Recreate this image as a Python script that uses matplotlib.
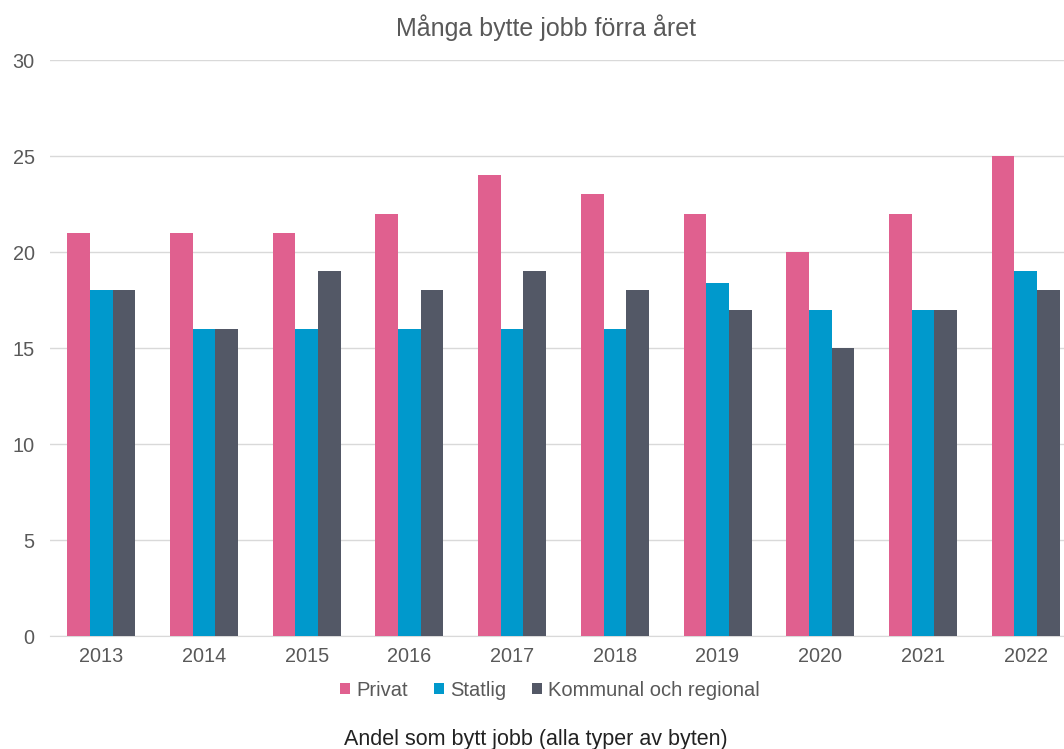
import numpy as np
import matplotlib.pyplot as plt

plt.rcParams['font.family'] = ['Liberation Sans', 'DejaVu Sans']

years = ['2013', '2014', '2015', '2016', '2017', '2018', '2019', '2020', '2021', '2022']
privat = [21, 21, 21, 22, 24, 23, 22, 20, 22, 25]
statlig = [18, 16, 16, 16, 16, 16, 18.4, 17, 17, 19]
kommunal = [18, 16, 19, 18, 19, 18, 17, 15, 17, 18]

series = [('Privat', privat, '#E0608F'),
          ('Statlig', statlig, '#0099CC'),
          ('Kommunal och regional', kommunal, '#535866')]

grey = '#595959'
fig = plt.figure(figsize=(10.64, 7.49), dpi=100)
# chart is cut off on the right edge in the reference
ax = fig.add_axes([50 / 1064, 1 - 636 / 749, 1027 / 1064, 576 / 749])

x = np.arange(len(years))
w = 0.221
for i, (name, vals, col) in enumerate(series):
    ax.bar(x + (i - 1) * w, vals, w, color=col, label=name, zorder=3)

ax.set_xlim(-0.5, len(years) - 0.5)
ax.set_ylim(0, 30)
ax.set_yticks(range(0, 31, 5))
ax.set_xticks(x, years)
ax.grid(axis='y', color='#D9D9D9', linewidth=1, zorder=0)
for s in ['top', 'right', 'left']:
    ax.spines[s].set_visible(False)
ax.spines['bottom'].set_color('#D9D9D9')
ax.tick_params(axis='both', length=0, labelsize=14.3, colors=grey)
ax.tick_params(axis='y', pad=11)
ax.tick_params(axis='x', pad=8)

fig.text(546 / 1064, 1 - 28 / 749, 'Många bytte jobb förra året', ha='center', va='center',
         fontsize=18, color=grey)

handles, labels = ax.get_legend_handles_labels()
fig.legend(handles, labels, loc='center', bbox_to_anchor=(550 / 1064, 1 - 690 / 749),
           ncol=3, frameon=False, fontsize=14.5, labelcolor=grey, handlelength=0.5,
           handleheight=0.5, handletextpad=0.3, columnspacing=1.3)

fig.text(536 / 1064, 1 - 740 / 749, 'Andel som bytt jobb (alla typer av byten)', ha='center',
         va='center', fontsize=15.5, color='#222222')

fig.savefig('out.png', dpi=100)
